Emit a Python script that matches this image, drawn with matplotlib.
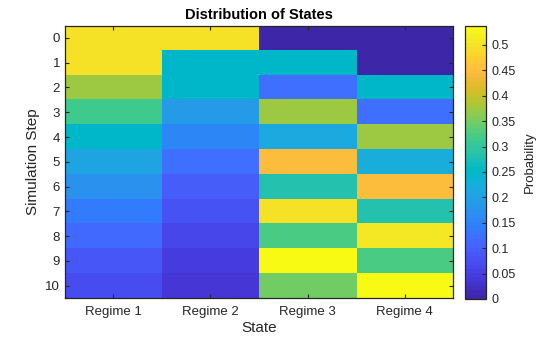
import numpy as np
import matplotlib; matplotlib.use("Agg")
import matplotlib.pyplot as plt
from matplotlib.colors import ListedColormap

plt.rcParams["font.family"] = ["Liberation Sans", "DejaVu Sans"]

# data (rows = simulation step, cols = regime)
states = ["Regime 1", "Regime 2", "Regime 3", "Regime 4"]
steps = list(range(11))
regime1 = [0.5, 0.5, 0.375, 0.3125, 0.25, 0.205, 0.175, 0.137, 0.111, 0.09, 0.073]
regime2 = [0.5, 0.25, 0.25, 0.1875, 0.155, 0.125, 0.10, 0.08, 0.065, 0.05, 0.04]
regime3 = [0.0, 0.25, 0.125, 0.375, 0.215, 0.453, 0.28, 0.503, 0.324, 0.5375, 0.35]
regime4 = [0.0, 0.0, 0.25, 0.125, 0.375, 0.219, 0.45, 0.28, 0.505, 0.324, 0.535]
cbar_ticks = [0, 0.05, 0.1, 0.15, 0.2, 0.25, 0.3, 0.35, 0.4, 0.45, 0.5]

# MATLAB parula (64)
PARULA = [
    [0.2422, 0.1504, 0.6603], [0.2504, 0.1650, 0.7076], [0.2578, 0.1818, 0.7511], [0.2647, 0.1978, 0.7952],
    [0.2706, 0.2147, 0.8364], [0.2751, 0.2342, 0.8710], [0.2783, 0.2559, 0.8991], [0.2803, 0.2782, 0.9221],
    [0.2813, 0.3006, 0.9414], [0.2810, 0.3228, 0.9579], [0.2795, 0.3447, 0.9717], [0.2760, 0.3667, 0.9829],
    [0.2699, 0.3892, 0.9906], [0.2602, 0.4123, 0.9952], [0.2440, 0.4358, 0.9988], [0.2206, 0.4603, 0.9973],
    [0.1963, 0.4847, 0.9892], [0.1834, 0.5074, 0.9798], [0.1786, 0.5289, 0.9682], [0.1764, 0.5499, 0.9520],
    [0.1687, 0.5703, 0.9359], [0.1540, 0.5902, 0.9218], [0.1460, 0.6091, 0.9079], [0.1380, 0.6276, 0.8973],
    [0.1248, 0.6459, 0.8883], [0.1113, 0.6635, 0.8763], [0.0952, 0.6798, 0.8598], [0.0689, 0.6948, 0.8394],
    [0.0297, 0.7082, 0.8163], [0.0036, 0.7203, 0.7917], [0.0067, 0.7312, 0.7660], [0.0433, 0.7411, 0.7394],
    [0.0964, 0.7500, 0.7120], [0.1408, 0.7584, 0.6842], [0.1717, 0.7670, 0.6554], [0.1938, 0.7758, 0.6251],
    [0.2161, 0.7843, 0.5923], [0.2470, 0.7918, 0.5567], [0.2906, 0.7973, 0.5188], [0.3406, 0.8008, 0.4789],
    [0.3909, 0.8029, 0.4354], [0.4456, 0.8024, 0.3909], [0.5044, 0.7993, 0.3480], [0.5616, 0.7942, 0.3045],
    [0.6174, 0.7876, 0.2612], [0.6720, 0.7793, 0.2227], [0.7242, 0.7698, 0.1910], [0.7738, 0.7598, 0.1646],
    [0.8203, 0.7498, 0.1535], [0.8634, 0.7406, 0.1596], [0.9035, 0.7330, 0.1774], [0.9393, 0.7288, 0.2100],
    [0.9728, 0.7298, 0.2394], [0.9956, 0.7434, 0.2371], [0.9970, 0.7659, 0.2199], [0.9952, 0.7893, 0.2028],
    [0.9892, 0.8136, 0.1885], [0.9786, 0.8386, 0.1766], [0.9676, 0.8639, 0.1643], [0.9610, 0.8890, 0.1537],
    [0.9597, 0.9135, 0.1423], [0.9628, 0.9373, 0.1265], [0.9691, 0.9606, 0.1064], [0.9769, 0.9839, 0.0805],
]
cmap = ListedColormap(PARULA, name="parula")

data = np.column_stack([regime1, regime2, regime3, regime4])
txt = "#262626"

fig = plt.figure(figsize=(5.6, 3.37), dpi=100)
ax = fig.add_axes([0.116, 0.116, 0.693, 0.808])
cax = fig.add_axes([0.830, 0.113, 0.0375, 0.810])

im = ax.imshow(data, cmap=cmap, aspect="auto", interpolation="nearest",
               vmin=data.min(), vmax=data.max())
ax.set_xticks(range(len(states)))
ax.set_xticklabels(states)
ax.set_yticks(steps)
ax.set_yticklabels([str(s) for s in steps])
ax.tick_params(direction="in", length=3, width=0.8, colors=txt, labelsize=9.5,
               top=True, right=True, labelcolor=txt)
ax.tick_params(axis="x", pad=6)
for sp in ax.spines.values():
    sp.set_color(txt); sp.set_linewidth(0.9)
ax.set_xlabel("State", fontsize=11, color=txt, labelpad=2)
ax.set_ylabel("Simulation Step", fontsize=11, color=txt, labelpad=4)
ax.set_title("Distribution of States", fontsize=10.5, fontweight="bold", color="black", pad=5)

cb = fig.colorbar(im, cax=cax)
cb.set_ticks(cbar_ticks)
cb.set_ticklabels([f"{t:g}" for t in cbar_ticks])
cb.outline.set_edgecolor(txt); cb.outline.set_linewidth(0.9)
cax.tick_params(direction="in", length=3, width=0.8, colors=txt, labelsize=9, pad=4)
cb.set_label("Probability", fontsize=9.5, color=txt, labelpad=6)

fig.savefig("out.png", dpi=100)
